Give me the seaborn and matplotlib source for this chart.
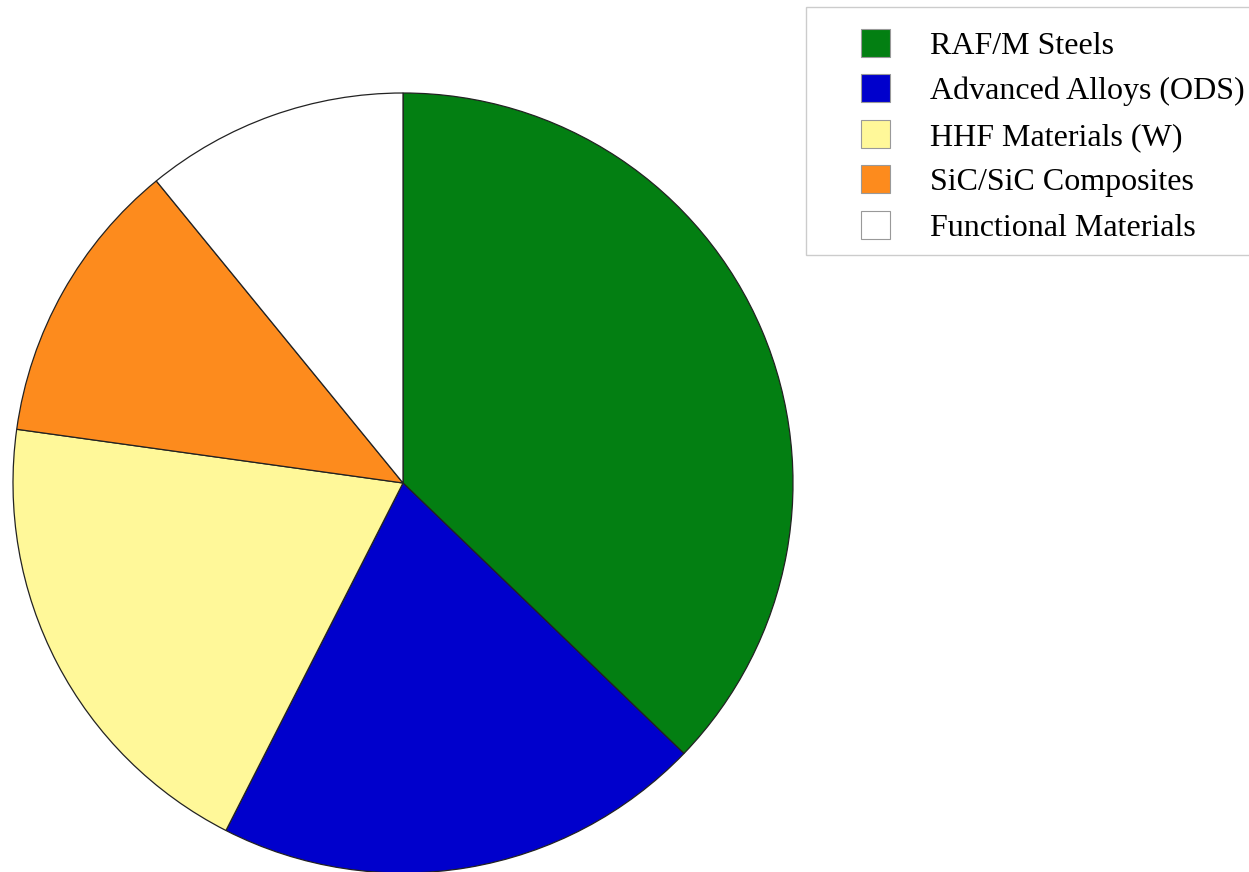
import matplotlib
matplotlib.use("Agg")
import matplotlib.pyplot as plt
from matplotlib.patches import Patch, Rectangle
import seaborn as sns

# Share of research effort by material class (percent)
categories = ["RAF/M Steels", "Advanced Alloys (ODS)", "HHF Materials (W)",
              "SiC/SiC Composites", "Functional Materials"]
shares = [37.2, 20.3, 19.7, 11.9, 10.9]
colors = ["#037f12", "#0000cc", "#fff899", "#fd8b1d", "#ffffff"]

sns.set_theme(style="white")
plt.rcParams["font.family"] = ["Liberation Serif", "DejaVu Serif"]

W, H = 1249, 872
fig = plt.figure(figsize=(W / 100, H / 100), dpi=100)
fig.patch.set_facecolor("white")

# Pie axes: square 780 px box, centred on (403, 483) px from the top-left
cx, cy, r = 403, 483, 390
ax = fig.add_axes([(cx - r) / W, (H - cy - r) / H, 2 * r / W, 2 * r / H])
ax.pie(shares, colors=colors, startangle=90, counterclock=False, radius=1.0,
       wedgeprops=dict(edgecolor="#222222", linewidth=0.9))
ax.set_xlim(-1, 1)
ax.set_ylim(-1, 1)
ax.axis("off")

# Legend frame drawn in figure pixels, running off the right edge
fig.patches.append(Rectangle((806 / W, (H - 255) / H), 460 / W, 248 / H,
                             transform=fig.transFigure, facecolor="white",
                             edgecolor="#cccccc", linewidth=1.0, zorder=0))

handles = [Patch(facecolor=c, edgecolor="#999999", linewidth=0.8) for c in colors]
fs = 23
leg = fig.legend(handles, categories, loc="upper left",
                 bbox_to_anchor=(861 / W, 1 - 29 / H), frameon=False,
                 fontsize=fs, handlelength=0.92, handleheight=0.95,
                 handletextpad=1.25, labelspacing=0.43, borderpad=0,
                 borderaxespad=0)
for t in leg.get_texts():
    t.set_color("black")

fig.savefig("out.png", dpi=100, facecolor="white")
